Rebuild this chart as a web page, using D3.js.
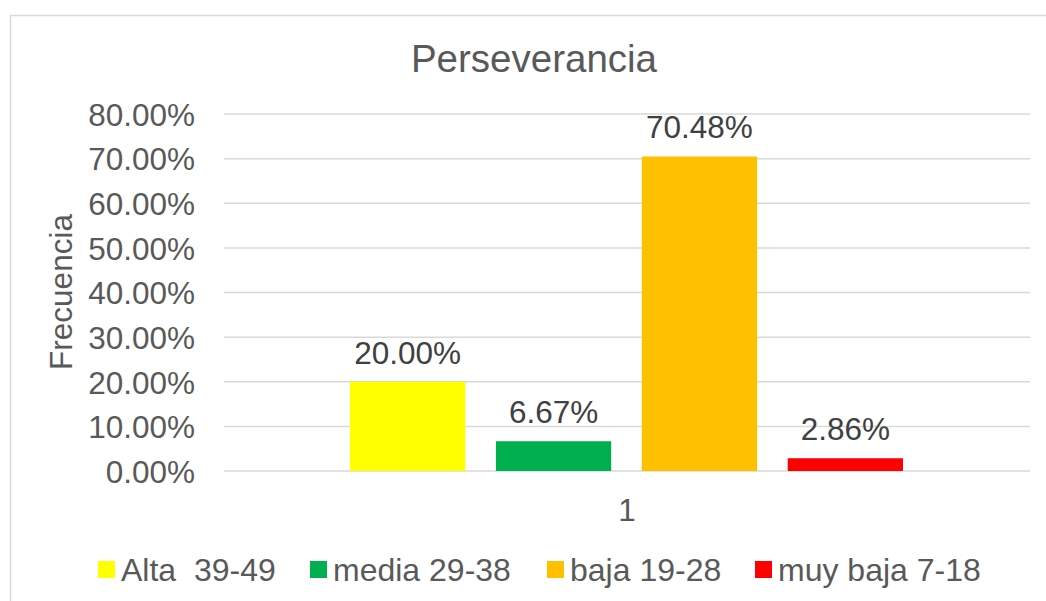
<!DOCTYPE html>
<html>
<head>
<meta charset="utf-8">
<script src="https://cdn.jsdelivr.net/npm/d3@7"></script>
<style>
  body { margin: 0; background: #fff; }
  text { font-family: "Liberation Sans", Arial, sans-serif; }
</style>
</head>
<body>
<div id="chart"></div>
<script>
// data
var categories = ["1"];
var seriesNames = ["Alta  39-49", "media 29-38", "baja 19-28", "muy baja 7-18"];
var seriesValues = [20.0, 6.67, 70.48, 2.86];
var seriesColors = ["#ffff00", "#00b050", "#ffc000", "#ff0000"];
var yTicks = [0, 10, 20, 30, 40, 50, 60, 70, 80];

var width = 1046;
var height = 601;

var plotLeft = 224;
var plotRight = 1030;
var plotTop = 114;
var plotBottom = 471;

var svg = d3
  .select("#chart")
  .append("svg")
  .attr("width", width)
  .attr("height", height);

// chart frame
svg
  .append("rect")
  .attr("x", 10.5)
  .attr("y", 15.5)
  .attr("width", 1060)
  .attr("height", 620)
  .attr("fill", "#fff")
  .attr("stroke", "#d9d9d9")
  .attr("stroke-width", 1.5);

// title
svg
  .append("text")
  .attr("x", 534)
  .attr("y", 72)
  .attr("text-anchor", "middle")
  .attr("font-size", 38.5)
  .attr("fill", "#595959")
  .text("Perseverancia");

var yScale = d3.scaleLinear().domain([0, 80]).range([plotBottom, plotTop]);

var xScale = d3
  .scaleBand()
  .domain(categories)
  .range([plotLeft, plotRight]);

var innerScale = d3
  .scaleBand()
  .domain(seriesNames)
  .range([350 - plotLeft, 903 - plotLeft])
  .paddingInner(0.21);

// gridlines
svg
  .append("g")
  .selectAll("line")
  .data(yTicks)
  .enter()
  .append("line")
  .attr("x1", plotLeft)
  .attr("x2", plotRight)
  .attr("y1", function (d) { return yScale(d); })
  .attr("y2", function (d) { return yScale(d); })
  .attr("stroke", "#d9d9d9")
  .attr("stroke-width", 1.5);

// y axis labels
var yAxis = d3
  .axisLeft(yScale)
  .tickValues(yTicks)
  .tickSize(0)
  .tickPadding(0)
  .tickFormat(function (d) { return d.toFixed(2) + "%"; });

var yG = svg
  .append("g")
  .attr("transform", "translate(195,0)")
  .call(yAxis);
yG.select(".domain").remove();
yG.selectAll("text")
  .attr("font-size", 31.5)
  .attr("fill", "#595959")
  .attr("dy", "0.36em")
  .style("font-family", "'Liberation Sans', Arial, sans-serif");

// x axis label
var xAxis = d3.axisBottom(xScale).tickSize(0).tickPadding(0);
var xG = svg
  .append("g")
  .attr("transform", "translate(0," + plotBottom + ")")
  .call(xAxis);
xG.select(".domain").remove();
xG.selectAll("text")
  .attr("font-size", 31.5)
  .attr("fill", "#595959")
  .attr("y", 50)
  .attr("dy", 0)
  .style("font-family", "'Liberation Sans', Arial, sans-serif");

// y axis title
svg
  .append("text")
  .attr("transform", "translate(72,292)rotate(-90)")
  .attr("text-anchor", "middle")
  .attr("font-size", 31.5)
  .attr("fill", "#595959")
  .text("Frecuencia");

// bars
var bars = svg
  .append("g")
  .selectAll("g")
  .data(categories)
  .enter()
  .append("g")
  .attr("transform", function (d) { return "translate(" + xScale(d) + ",0)"; });

var rows = seriesNames.map(function (name, i) {
  return { name: name, value: seriesValues[i], color: seriesColors[i] };
});

bars
  .selectAll("rect")
  .data(rows)
  .enter()
  .append("rect")
  .attr("x", function (d) { return innerScale(d.name); })
  .attr("y", function (d) { return yScale(d.value); })
  .attr("width", innerScale.bandwidth())
  .attr("height", function (d) { return plotBottom - yScale(d.value); })
  .attr("fill", function (d) { return d.color; });

// data labels
bars
  .selectAll("text.lbl")
  .data(rows)
  .enter()
  .append("text")
  .attr("class", "lbl")
  .attr("x", function (d) { return innerScale(d.name) + innerScale.bandwidth() / 2; })
  .attr("y", function (d) { return yScale(d.value) - 18; })
  .attr("text-anchor", "middle")
  .attr("font-size", 31.5)
  .attr("fill", "#404040")
  .text(function (d) { return d.value.toFixed(2) + "%"; });

// legend
var legendX = [98, 310, 547, 755];
var legend = svg
  .append("g")
  .selectAll("g")
  .data(rows)
  .enter()
  .append("g")
  .attr("transform", function (d, i) { return "translate(" + legendX[i] + ",561)"; });

legend
  .append("rect")
  .attr("width", 17)
  .attr("height", 17)
  .attr("fill", function (d) { return d.color; });

legend
  .append("text")
  .attr("x", 23)
  .attr("y", 20)
  .attr("font-size", 32)
  .attr("fill", "#595959")
  .style("white-space", "pre")
  .text(function (d) { return d.name; });
</script>
</body>
</html>
